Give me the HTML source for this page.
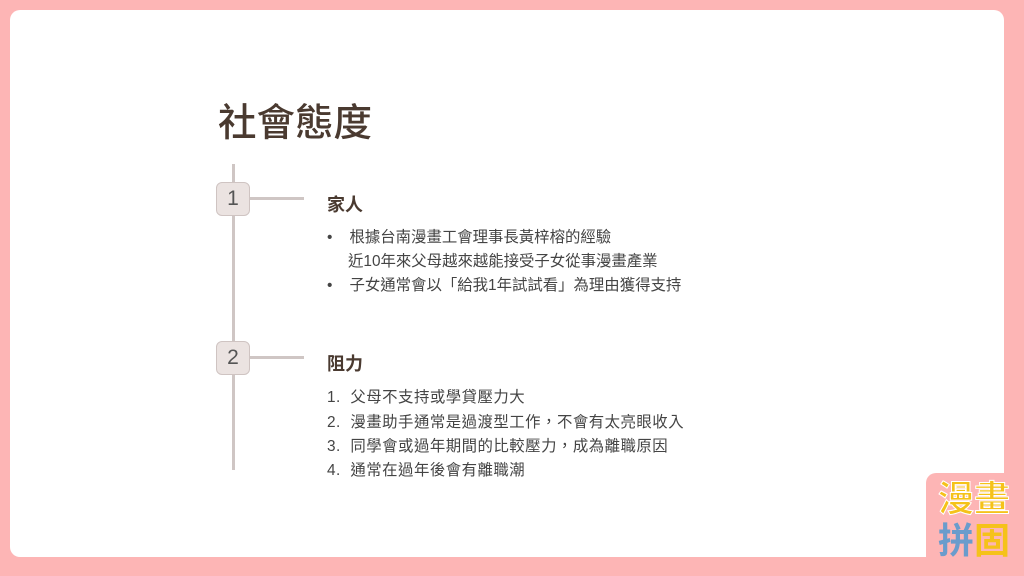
<!DOCTYPE html>
<html><head><meta charset="utf-8"><style>
body{margin:0;width:1024px;height:576px;background:#fdb5b5;position:relative;overflow:hidden;font-family:"Liberation Sans","Noto Sans CJK TC",sans-serif;color:#3d3d3d}
.card{position:absolute;background:#fff;border-radius:10px}
.t{position:absolute;white-space:nowrap}
.box{position:absolute;width:34px;height:34px;background:#ebe3e1;border:1px solid #cfc4c2;border-radius:6px;box-sizing:border-box;text-align:center;line-height:32px;font-size:21px;color:#555}
.ln{position:absolute;background:#cfc6c4}
.b{font-size:15.4px;color:#444}
.n{font-size:15.4px;color:#444;letter-spacing:0.5px}
</style></head><body>
<div class="card" style="left:10px;top:10px;width:994px;height:547px"></div>
<div style="position:absolute;left:926px;top:473px;width:98px;height:103px;background:#fdb5b5;border-radius:10px 0 0 0"></div>
<div class="t" style="left:218px;top:92px;font-size:38.5px;color:#4a3a30;font-weight:500">社會態度</div>
<div class="ln" style="left:232px;top:164px;width:3px;height:306px"></div>
<div class="ln" style="left:250px;top:197px;width:54px;height:3px"></div>
<div class="ln" style="left:250px;top:356px;width:54px;height:3px"></div>
<div class="box" style="left:216px;top:182px">1</div>
<div class="box" style="left:216px;top:341px">2</div>
<div class="t" style="left:327px;top:191px;font-size:18px;font-weight:bold;color:#4a3a30">家人</div>
<div class="t b" style="left:327px;top:225px">•&nbsp;&nbsp;&nbsp;&nbsp;根據台南漫畫工會理事長黃梓榕的經驗</div>
<div class="t b" style="left:348px;top:249px">近10年來父母越來越能接受子女從事漫畫產業</div>
<div class="t b" style="left:327px;top:273px">•&nbsp;&nbsp;&nbsp;&nbsp;子女通常會以「給我1年試試看」為理由獲得支持</div>
<div class="t" style="left:327px;top:350px;font-size:18px;font-weight:bold;color:#4a3a30">阻力</div>
<div class="t n" style="left:327px;top:385px">1.&nbsp;&nbsp;父母不支持或學貸壓力大</div>
<div class="t n" style="left:327px;top:410px">2.&nbsp;&nbsp;漫畫助手通常是過渡型工作，不會有太亮眼收入</div>
<div class="t n" style="left:327px;top:434px">3.&nbsp;&nbsp;同學會或過年期間的比較壓力，成為離職原因</div>
<div class="t n" style="left:327px;top:458px">4.&nbsp;&nbsp;通常在過年後會有離職潮</div>
<div class="t" style="left:938px;top:480px;font-size:36px;font-weight:bold;line-height:38px;color:#f5c21a;-webkit-text-stroke:1px #fff">漫<span>畫</span></div>
<div class="t" style="left:938px;top:522px;font-size:36px;font-weight:bold;line-height:38px;color:#6a9ccc">拼<span style="color:#f5c21a">固</span></div>
</body></html>
